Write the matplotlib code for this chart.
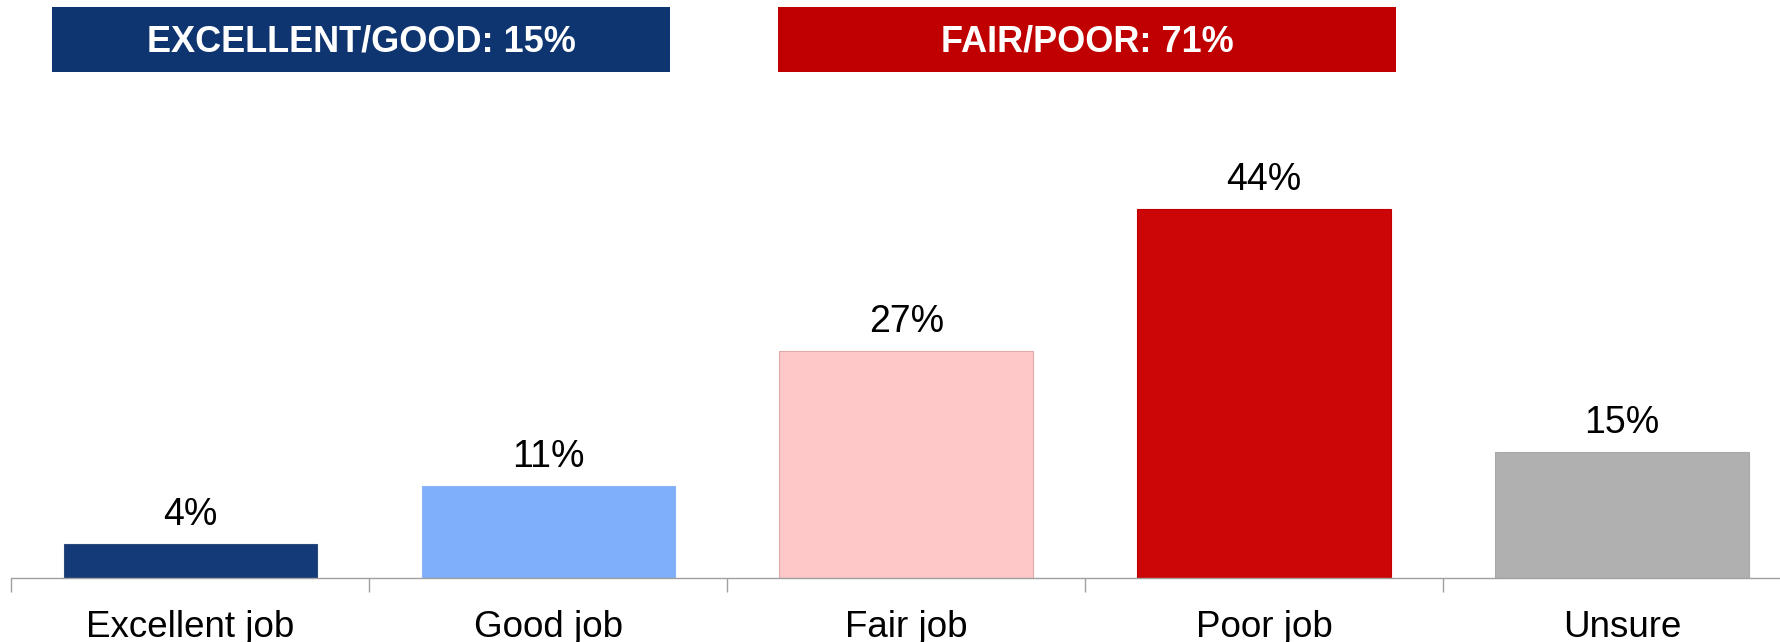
import matplotlib
matplotlib.use("Agg")
import matplotlib.pyplot as plt
from matplotlib.patches import Rectangle

plt.rcParams['font.family'] = ['Liberation Sans', 'DejaVu Sans']

categories = ["Excellent job", "Good job", "Fair job", "Poor job", "Unsure"]
values = [4, 11, 27, 44, 15]
bar_colors = ["#153A78", "#7FAEFA", "#FFC8C8", "#CC0606", "#B0B0B0"]
edge_colors = ["#2A4A80", "#8AB4F5", "#E0A8A8", "#C00000", "#A8A8A8"]

header_labels = ["EXCELLENT/GOOD: 15%", "FAIR/POOR: 71%"]
header_colors = ["#0F3571", "#C00000"]

W, H = 1780, 642
fig = plt.figure(figsize=(W / 100, H / 100), dpi=100)

# axes positioned in pixels: tick boundaries at x=11 .. 1801, baseline at y=578
ax_left = 11.4 / W
ax_width = 1789.6 / W
ax_bottom = (H - 578) / H
ymax = 50
ax_top_px = 578 - ymax * 8.39
ax_height = (578 - ax_top_px) / H
ax = fig.add_axes([ax_left, ax_bottom, ax_width, ax_height])

x = list(range(len(categories)))
bars = ax.bar(x, values, width=0.708, color=bar_colors, edgecolor=edge_colors, linewidth=0.8, zorder=2)

for xi, v in zip(x, values):
    ax.annotate(f"{v}%", xy=(xi, v), xytext=(0, 8), textcoords="offset points",
                ha="center", va="bottom", fontsize=27, color="black")

ax.set_xlim(-0.5, len(categories) - 0.5)
ax.set_ylim(0, ymax)

# boundary ticks (major) and centered labels (minor)
ax.set_xticks([i - 0.5 for i in range(len(categories) + 1)])
ax.set_xticklabels([])
ax.set_xticks(x, minor=True)
ax.set_xticklabels(categories, minor=True, fontsize=26.5)
ax.tick_params(axis="x", which="major", length=10, width=1, color="#A0A0A0", direction="out")
ax.tick_params(axis="x", which="minor", length=0, pad=23)
ax.set_yticks([])

for side in ["top", "right", "left"]:
    ax.spines[side].set_visible(False)
ax.spines["bottom"].set_color("#A0A0A0")
ax.spines["bottom"].set_linewidth(1)

# header boxes
boxes = [(52, 670), (778, 1396)]
box_top, box_bot = 7, 72
for (x0, x1), label, col in zip(boxes, header_labels, header_colors):
    rect = Rectangle((x0 / W, (H - box_bot) / H), (x1 - x0) / W, (box_bot - box_top) / H,
                     transform=fig.transFigure, facecolor=col, edgecolor="none")
    fig.patches.append(rect)
    fig.text((x0 + x1) / 2 / W, (H - 42) / H, label,
             ha="center", va="center", color="white", fontsize=26, fontweight="bold")

fig.savefig("out.png", dpi=100)
